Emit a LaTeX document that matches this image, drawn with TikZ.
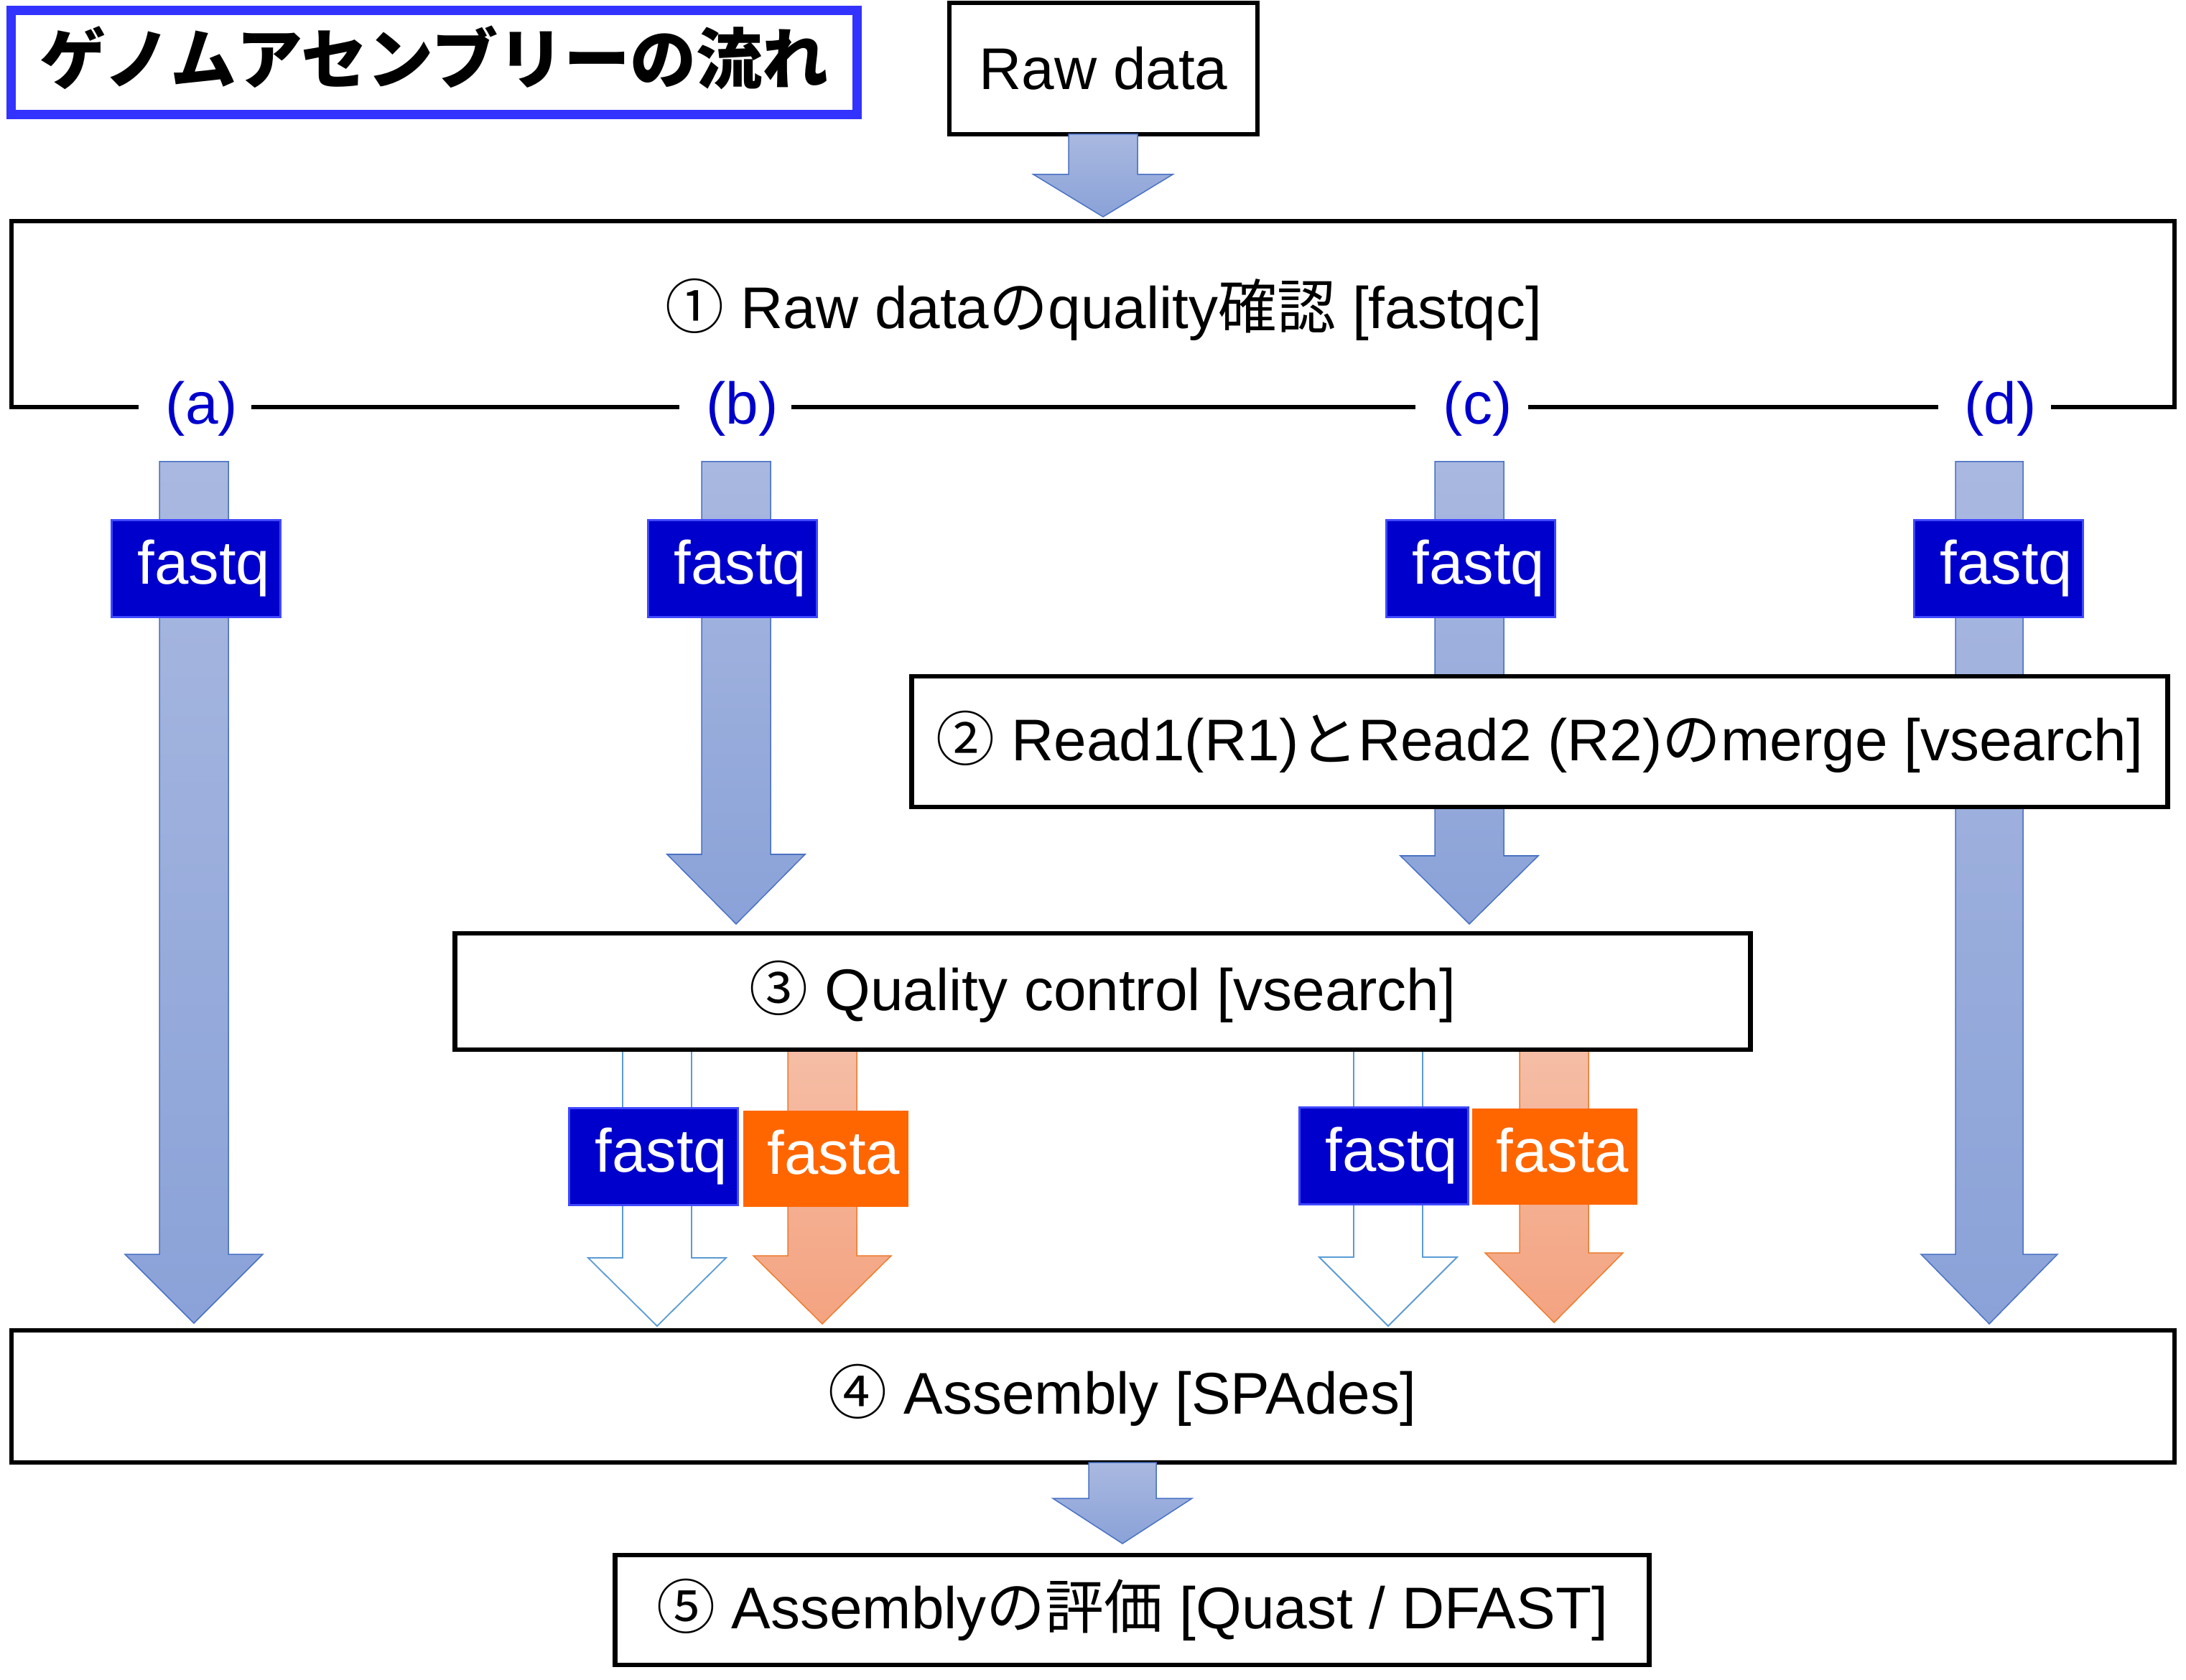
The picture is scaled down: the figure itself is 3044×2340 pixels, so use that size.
\documentclass[tikz,border=0pt]{standalone}
\usepackage{fontspec}
\setmainfont{Liberation Sans}
\newfontfamily\jp{Noto Sans CJK JP}
\definecolor{bluetop}{HTML}{A9B8E0}
\definecolor{bluebot}{HTML}{8AA2D8}
\definecolor{blueedge}{HTML}{4A72C4}
\definecolor{oratop}{HTML}{F5BEA6}
\definecolor{orabot}{HTML}{F4A380}
\definecolor{oraedge}{HTML}{ED7D31}
\definecolor{whiteedge}{HTML}{5B9BD5}
\definecolor{fqfill}{HTML}{0000CC}
\definecolor{fqedge}{HTML}{4048FF}
\definecolor{fafill}{HTML}{FF6600}
\definecolor{labblue}{HTML}{0000CC}
\definecolor{titleblue}{HTML}{3333FF}
\newcommand\mainsz{\fontsize{23.3pt}{28pt}\selectfont}
\newcommand\tagsz{\fontsize{24.2pt}{29pt}\selectfont}
\newcommand\titlesz{\fontsize{26.2pt}{31pt}\selectfont}
% style, x centre, y top, y head start, y tip, shaft half width, head half width
\newcommand\blockarrow[7]{%
  \path[#1] (#2-#6,#3) -- (#2+#6,#3) -- (#2+#6,#4) -- (#2+#7,#4) -- (#2,#5)
    -- (#2-#7,#4) -- (#2-#6,#4) -- cycle;}
\begin{document}
\begin{tikzpicture}[x=0.01cm,y=-0.01cm,
  box/.style={draw=black,line width=0.065cm,fill=white,inner sep=0pt},
  barblue/.style={top color=bluetop,bottom color=bluebot,draw=blueedge,line width=0.015cm},
  barora/.style={top color=oratop,bottom color=orabot,draw=oraedge,line width=0.015cm},
  barwhite/.style={fill=white,draw=whiteedge,line width=0.018cm},
  fqtag/.style={fill=fqfill,draw=fqedge,line width=0.03cm,text=white,font=\tagsz,inner sep=0pt,minimum width=2.35cm,minimum height=1.34cm},
  fatag/.style={fill=fafill,draw=fafill,line width=0.01cm,text=white,font=\tagsz,inner sep=0pt,minimum width=2.28cm,minimum height=1.33cm},
  lab/.style={fill=white,text=labblue,font=\mainsz,inner sep=0pt,minimum width=1.56cm,minimum height=0.9cm}]
\useasboundingbox (0,0) rectangle (3044,2340);

% title
\node[draw=titleblue,line width=0.13cm,inner sep=0pt,minimum width=11.78cm,minimum height=1.45cm] (title) at (604.5,87) {};
\node[font=\titlesz\jp\bfseries,inner sep=0pt] (titletext) at (605,80) {ゲノムアセンブリーの流れ};

% raw data
\node[box,minimum width=4.29cm,minimum height=1.83cm,font=\mainsz] (raw) at (1536.5,95.5) {Raw data};

% box 1
\node[box,minimum width=30.10cm,minimum height=2.59cm] (q1) at (1522,437.5) {};
\node[font=\mainsz,inner sep=0pt] (q1t) at (1537,431) {{\jp ①} Raw data{\jp の}quality{\jp 確認} [fastqc]};
\node[lab] (la) at (271.5,569) {\hspace{0.19cm}(a)};
\node[lab] (lb) at (1024,569) {\hspace{0.19cm}(b)};
\node[lab] (lc) at (2049.5,569) {\hspace{0.16cm}(c)};
\node[lab] (ld) at (2777.5,569) {\hspace{0.16cm}(d)};

% arrow raw -> box 1
\blockarrow{barblue}{1536}{187}{243}{302}{48}{97}

% column arrows
\blockarrow{barblue}{270}{643}{1747}{1843}{48}{96}
\blockarrow{barblue}{1025}{643}{1190}{1287}{48}{96}
\blockarrow{barblue}{2046}{643}{1192}{1287}{48}{96}
\blockarrow{barblue}{2770}{643}{1747}{1844}{47}{95}

% fastq tags top row
\node[fqtag] (fa) at (273,792) {\hspace{0.22cm}fastq};
\node[fqtag] (fb) at (1020,792) {\hspace{0.22cm}fastq};
\node[fqtag] (fc) at (2048,792) {\hspace{0.22cm}fastq};
\node[fqtag] (fd) at (2783,792) {\hspace{0.22cm}fastq};

% box 2
\node[box,minimum width=17.48cm,minimum height=1.82cm,font=\mainsz] (q2) at (2144,1033)
  {{\jp ②} Read1(R1){\jp と}Read2 (R2){\jp の}merge [vsearch]};

% outputs of box 3 (drawn first so that the box covers their tops)
\blockarrow{barwhite}{915}{1458}{1752}{1847}{48}{96}
\blockarrow{barora}{1145}{1458}{1749}{1844}{48}{96}
\blockarrow{barwhite}{1933}{1458}{1751}{1847}{48}{96}
\blockarrow{barora}{2164}{1458}{1745}{1842}{48}{96}

% box 3
\node[box,minimum width=18.03cm,minimum height=1.62cm,font=\mainsz] (q3) at (1535.5,1381)
  {{\jp ③} Quality control [vsearch]};

\node[fqtag] (fq3l) at (910,1611) {\hspace{0.22cm}fastq};
\node[fatag] (fa3l) at (1150,1614) {\hspace{0.22cm}fasta\vphantom{q}};
\node[fqtag] (fq3r) at (1927,1610) {\hspace{0.22cm}fastq};
\node[fatag] (fa3r) at (2165,1611) {\hspace{0.22cm}fasta\vphantom{q}};

% box 4
\node[box,minimum width=30.10cm,minimum height=1.84cm] (q4) at (1522,1945) {};
\node[font=\mainsz,inner sep=0pt] (q4t) at (1563,1943) {{\jp ④} Assembly [SPAdes]};

% arrow box 4 -> box 5
\blockarrow{barblue}{1563}{2037}{2087}{2150}{47}{97}

% box 5
\node[box,minimum width=14.39cm,minimum height=1.53cm,font=\mainsz] (q5) at (1576.5,2242.5)
  {{\jp ⑤} Assembly{\jp の評価} [Quast / DFAST]};
\end{tikzpicture}
\end{document}
